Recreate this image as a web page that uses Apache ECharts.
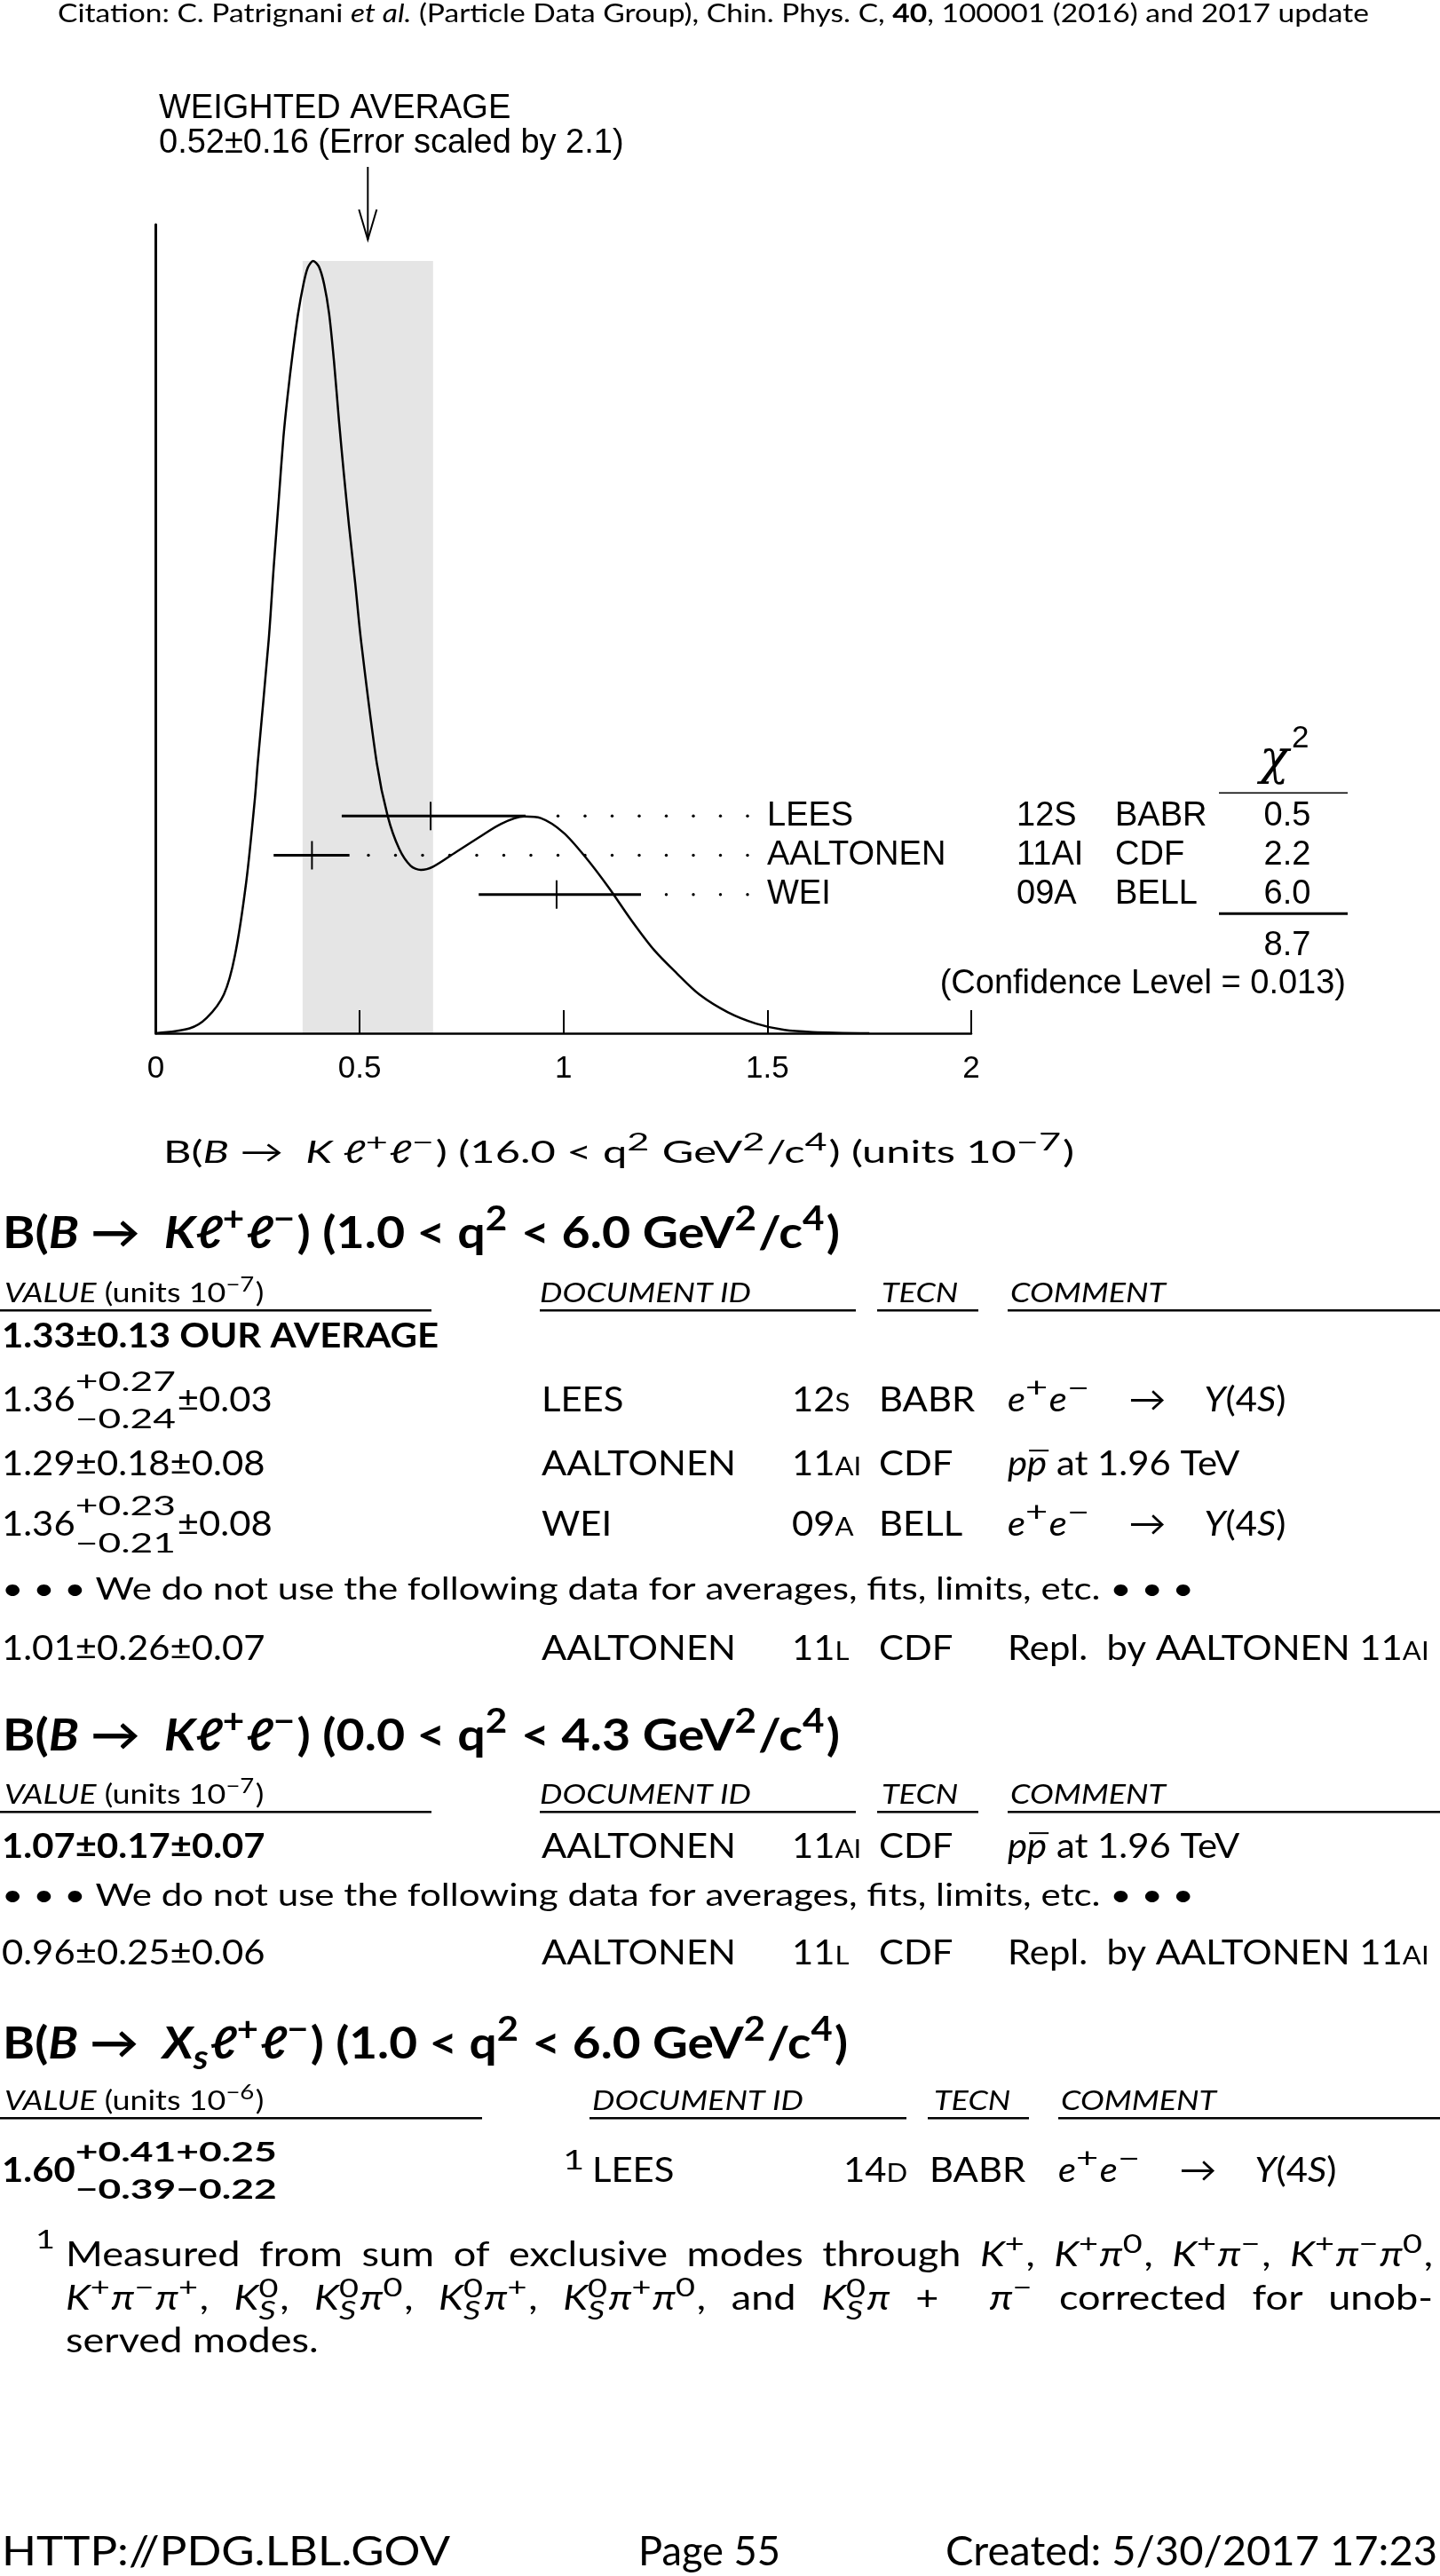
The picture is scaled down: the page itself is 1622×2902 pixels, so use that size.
<!DOCTYPE html>
<html><head><meta charset="utf-8">
<script src="https://cdn.jsdelivr.net/npm/echarts@6/dist/echarts.min.js"></script>
<style>html,body{margin:0;padding:0;background:#fff}#c{width:1622px;height:2902px}</style>
</head><body><div id="c"></div>
<script>
// ---------------- DATA ----------------
const curveX = [0, 0.083, 0.125, 0.167, 0.194, 0.222, 0.243, 0.25, 0.277, 0.289, 0.302, 0.313, 0.323, 0.336, 0.349, 0.362, 0.373, 0.386, 0.4, 0.413, 0.425, 0.437, 0.449, 0.461, 0.474, 0.489, 0.503, 0.542, 0.569, 0.597, 0.625, 0.65, 0.68, 0.736, 0.792, 0.847, 0.903, 0.944, 1.0, 1.055, 1.111, 1.166, 1.222, 1.278, 1.333, 1.403, 1.472, 1.542, 1.611, 1.75];
const curveY = [0, 0.006, 0.019, 0.048, 0.096, 0.188, 0.29, 0.334, 0.487, 0.575, 0.663, 0.737, 0.787, 0.842, 0.89, 0.926, 0.947, 0.955, 0.948, 0.926, 0.89, 0.831, 0.759, 0.693, 0.627, 0.557, 0.487, 0.334, 0.268, 0.228, 0.207, 0.202, 0.206, 0.224, 0.242, 0.259, 0.268, 0.266, 0.248, 0.217, 0.18, 0.14, 0.103, 0.074, 0.048, 0.026, 0.012, 0.004, 0.0015, 0];
const expNames = ['LEES', 'AALTONEN', 'WEI'];
const expRefs = ['12S', '11AI', '09A'];
const expTecn = ['BABR', 'CDF', 'BELL'];
const expVal = [0.674, 0.383, 0.983];
const expErrLo = [0.218, 0.094, 0.191];
const expErrHi = [0.233, 0.092, 0.207];
const expChi2 = ['0.5', '2.2', '6.0'];
const chi2Total = '8.7';
const confLevel = '0.013';
const avgValue = 0.52, avgError = 0.16, errScale = 2.1;
const xTicks = [0, 0.5, 1, 1.5, 2];

// ---------------- TEXT CONTENT ----------------
const citation = 'Citation: C. Patrignani @et al.@ (Particle Data Group), Chin. Phys. C, !40!, 100001 (2016) and 2017 update';
const axisTitle = 'B(@B@ →  @K@ @ℓ@^{+}@ℓ@^{−}) (16.0 < q^{2} GeV^{2}/c^{4}) (units 10^{−7})';
const sec1Title = 'B(@B@ →  @Kℓ@^{+}@ℓ@^{−}) (1.0 < q^{2} < 6.0 GeV^{2}/c^{4})';
const sec2Title = 'B(@B@ →  @Kℓ@^{+}@ℓ@^{−}) (0.0 < q^{2} < 4.3 GeV^{2}/c^{4})';
const sec3Title = 'B(@B@ →  @X@_{@s@}@ℓ@^{+}@ℓ@^{−}) (1.0 < q^{2} < 6.0 GeV^{2}/c^{4})';
const valHdr7 = '@VALUE@ (units 10^{−7})';
const valHdr6 = '@VALUE@ (units 10^{−6})';
const colHdrs = ['@DOCUMENT ID@', '@TECN@', '@COMMENT@'];
const EE = '@e@^{+}@e@^{−}    →    @Υ@(4@S@)';
const PP = '@p$p$@ at 1.96 TeV';
const REPL = 'Repl.  by AALTONEN 11#AI#';
const DOTS = '• • • We do not use the following data for averages, fits, limits, etc. • • •';
const sec1Avg = '1.33±0.13 OUR AVERAGE';
const sec1Values = ['1.36%{+0.27}{−0.24}±0.03', '1.29±0.18±0.08', '1.36%{+0.23}{−0.21}±0.08'];
const sec1Docs = ['LEES', 'AALTONEN', 'WEI'];
const sec1Refs = ['12#S#', '11#AI#', '09#A#'];
const sec1Tecn = ['BABR', 'CDF', 'BELL'];
const sec1Comments = [EE, PP, EE];
const sec1Unused = ['1.01±0.26±0.07', 'AALTONEN', '11#L#', 'CDF', REPL];
const sec2Main = ['1.07±0.17±0.07', 'AALTONEN', '11#AI#', 'CDF', PP];
const sec2Unused = ['0.96±0.25±0.06', 'AALTONEN', '11#L#', 'CDF', REPL];
const sec3Main = ['1.60%{+0.41+0.25}{−0.39−0.22}', 'LEES', '14#D#', 'BABR', EE];
const footLines = [
  'Measured from sum of exclusive modes through @K@^{+}, @K@^{+}@π@^{0}, @K@^{+}@π@^{−}, @K@^{+}@π@^{−}@π@^{0},',
  '@K@^{+}@π@^{−}@π@^{+}, @K@%{0}{@S@}, @K@%{0}{@S@}@π@^{0}, @K@%{0}{@S@}@π@^{+}, @K@%{0}{@S@}@π@^{+}@π@^{0}, and @K@%{0}{@S@}@π@ +  @π@^{−} corrected for unob-',
  'served modes.'
];
const footer = ['HTTP://PDG.LBL.GOV', 'Page 55', 'Created: 5/30/2017 17:23'];

// ---------------- TEXT LAYOUT HELPERS ----------------
const LATO = "Lato, 'DejaVu Sans', sans-serif";
const ARIAL = "'Liberation Sans', Arial, sans-serif";
const mctx = document.createElement('canvas').getContext('2d');
function F(size, it, b, fam) { return (it ? 'italic ' : '') + (b ? 'bold ' : '') + size + 'px ' + (fam || LATO); }
function MW(t, f) { mctx.font = f; return mctx.measureText(t).width; }
const offCache = {};
function OFF(f) {
  if (offCache[f] !== undefined) return offCache[f];
  mctx.font = f; mctx.textBaseline = 'middle';
  const a = mctx.measureText('H').actualBoundingBoxDescent;
  mctx.textBaseline = 'alphabetic';
  const b = mctx.measureText('H').actualBoundingBoxDescent;
  return offCache[f] = a - b;
}
const G = [];
function T(text, f, X, Y, sc) {
  G.push({type: 'text', x: X, y: Y, scaleX: sc, silent: true, z: 100,
    style: {text: text, font: f, fill: '#000', textFill: '#000', align: 'left', textAlign: 'left', verticalAlign: 'middle', textVerticalAlign: 'middle'}});
}
function R(x, y, w, h) { G.push({type: 'rect', silent: true, z: 100, shape: {x: x, y: y, width: w, height: h}, style: {fill: '#000'}}); }

function inner(s) {
  const segs = []; let b = '', it = false;
  for (const ch of s) { if (ch === '@') { if (b) segs.push({t: b, it: it}); b = ''; it = !it; } else b += ch; }
  if (b) segs.push({t: b, it: it});
  return segs;
}
function parse(str) {
  const out = []; let it = false, sc = false, ov = false, bd = false, buf = '';
  const flush = () => { if (buf) { out.push({t: buf, it: it, sc: sc, ov: ov, bd: bd, pos: 'base'}); buf = ''; } };
  let i = 0;
  while (i < str.length) {
    const ch = str[i];
    if (ch === '@') { flush(); it = !it; i++; continue; }
    if (ch === '#') { flush(); sc = !sc; i++; continue; }
    if (ch === '$') { flush(); ov = !ov; i++; continue; }
    if (ch === '!') { flush(); bd = !bd; i++; continue; }
    if ((ch === '^' || ch === '_') && str[i + 1] === '{') {
      flush(); const j = str.indexOf('}', i);
      out.push({pos: ch === '^' ? 'sup' : 'sub', segs: inner(str.slice(i + 2, j))}); i = j + 1; continue;
    }
    if (ch === '%' && str[i + 1] === '{') {
      flush(); const j = str.indexOf('}', i); const k = str.indexOf('}', j + 1);
      out.push({pos: 'stack', sup: inner(str.slice(i + 2, j)), sub: inner(str.slice(j + 2, k))}); i = k + 1; continue;
    }
    buf += ch; i++;
  }
  flush();
  return out;
}
function line(str, x, yb, o) {
  o = o || {};
  const size = o.size || 36, fam = o.fam || LATO, bold = !!o.b;
  const ss = o.ss || Math.round(size * 0.76);
  const kx = o.supX || 1;
  const supDy = o.supDy != null ? o.supDy : -0.4 * size, subDy = o.subDy != null ? o.subDy : 0.24 * size;
  const stSup = o.stSup != null ? o.stSup : -0.58 * size, stSub = o.stSub != null ? o.stSub : 0.48 * size;
  const toks = parse(str); const items = []; let cur = 0;
  const mk = (seg, sz, dy, at, k) => {
    const s2 = seg.sc ? Math.round(sz * 0.74) : sz;
    const f = F(s2, seg.it, bold || seg.bd, fam); const w = MW(seg.t, f) * k;
    items.push({t: seg.t, f: f, x: at, dy: dy, w: w, ov: seg.ov, sz: s2, k: k}); return w;
  };
  for (const tk of toks) {
    if (tk.pos === 'base') {
      if (o.justify) {
        for (const p of tk.t.split(/( )/)) {
          if (!p) continue;
          if (p === ' ') { cur += MW(' ', F(size, tk.it, bold, fam)); items.push({space: true}); }
          else cur += mk(Object.assign({}, tk, {t: p}), size, 0, cur, 1);
        }
      } else cur += mk(tk, size, 0, cur, 1);
    } else if (tk.pos === 'sup' || tk.pos === 'sub') {
      for (const s of tk.segs) cur += mk(s, ss, tk.pos === 'sup' ? supDy : subDy, cur, kx);
      cur += size * 0.04;
    } else {
      let a = cur, b = cur;
      for (const s of tk.sup) a += mk(s, ss, stSup, a, kx);
      for (const s of tk.sub) b += mk(s, ss, stSub, b, kx);
      cur = Math.max(a, b) + size * 0.04;
    }
  }
  const W = cur;
  if (o.measure) return W;
  const sc = o.width ? o.width / W : (o.scale || 1);
  let x0 = x; if (o.align === 'center') x0 = x - W * sc / 2; else if (o.align === 'right') x0 = x - W * sc;
  let extra = 0;
  if (o.justify) { const n = items.filter(q => q.space).length; extra = n ? (o.justify - W * sc) / n : 0; }
  let add = 0;
  for (const q of items) {
    if (q.space) { add += extra; continue; }
    const X = x0 + q.x * sc + add;
    T(q.t, q.f, X, yb + q.dy - OFF(q.f), sc * q.k);
    if (q.ov) R(X + 2, yb + q.dy - q.sz * 0.74, q.w * sc, 2);
  }
  return W;
}

// ---------------- PAGE TEXT ----------------
const BODY = 39;
const S = 219 / MW('AALTONEN', F(BODY));
const colS = 238 / MW('DOCUMENT ID', F(30, true, false));
const fnOpt = {size: 38, supDy: -15, supX: 1.1, stSup: -14, stSub: 11};
const fnS = 1440 / line(footLines[0], 0, 0, Object.assign({measure: true, justify: 1}, fnOpt));

line(citation, 65, 25, {size: 28, width: 1477});

// plot annotations
line('WEIGHTED AVERAGE', 179, 133, {size: 38, fam: ARIAL});
line(avgValue.toFixed(2) + '±' + avgError.toFixed(2) + ' (Error scaled by ' + errScale + ')', 179, 172, {size: 38, fam: ARIAL});
line('@χ@', 1419, 872, {size: 54, fam: "'DejaVu Serif', serif"});
line('2', 1455, 842, {size: 35, fam: ARIAL});
R(1373, 892.5, 145, 1.5);
R(1373, 1027.8, 145, 3);
line(chi2Total, 1450, 1076, {size: 38, fam: ARIAL, align: 'center'});
line('(Confidence Level = ' + confLevel + ')', 1516, 1119, {size: 38, fam: ARIAL, align: 'right'});
line(axisTitle, 184, 1310, {size: 35, width: 1026, supX: 1.15});

function colHeaders(y, valHdr, xs, ulines) {
  line(valHdr, xs[0], y, {size: 30, scale: colS});
  for (let i = 0; i < 3; i++) line(colHdrs[i], xs[i + 1], y, {size: 30, scale: colS});
  for (const u of ulines) R(u[0], y + 8, u[1] - u[0], 2.5);
}
function row(y, cols, c, bold) {
  line(c[0], cols[0], y, {size: BODY, scale: S, b: bold, supX: 1.38});
  line(c[1], cols[1], y, {size: BODY, scale: S});
  line(c[2], cols[2], y, {size: BODY, scale: S});
  line(c[3], cols[3], y, {size: BODY, scale: S});
  line(c[4], cols[4], y, {size: BODY, scale: S, supX: 1.35});
}
const C12 = [2, 610, 892, 990, 1135];
const U12 = [[0, 486], [608, 964], [988, 1102], [1135, 1622]];
const H12 = [5, 608, 993, 1138];

// section 1
line(sec1Title, 3, 1406, {size: 50, b: true, width: 943});
colHeaders(1467, valHdr7, H12, U12);
line(sec1Avg, 2, 1518, {size: BODY, b: true, width: 492});
[1590, 1662, 1730].forEach((y, i) => row(y, C12, [sec1Values[i], sec1Docs[i], sec1Refs[i], sec1Tecn[i], sec1Comments[i]], false));
line(DOTS, 2, 1802, {size: 35, width: 1343});
row(1870, C12, sec1Unused, false);

// section 2
line(sec2Title, 3, 1972, {size: 50, b: true, width: 943});
colHeaders(2032, valHdr7, H12, U12);
row(2093, C12, sec2Main, true);
line(DOTS, 2, 2147, {size: 35, width: 1343});
row(2213, C12, sec2Unused, false);

// section 3
line(sec3Title, 3, 2319, {size: 50, b: true, width: 952});
colHeaders(2377, valHdr6, [5, 667, 1052, 1195], [[0, 543], [664, 1021], [1045, 1159], [1192, 1622]]);
row(2458, [2, 667, 950, 1047, 1192], sec3Main, true);
line('^{1}', 634, 2458, {size: BODY, scale: S, supDy: -14, supX: 1.3});
line('^{1}', 40, 2553, Object.assign({}, fnOpt, {scale: fnS, supDy: -20}));
line(footLines[0], 74, 2553, Object.assign({}, fnOpt, {scale: fnS, justify: 1540}));
line(footLines[1], 74, 2602, Object.assign({}, fnOpt, {scale: fnS, justify: 1540}));
line(footLines[2], 74, 2650, Object.assign({}, fnOpt, {scale: fnS}));

// footer
line(footer[0], 2, 2890, {size: 46, width: 505});
line(footer[1], 719, 2890, {size: 46, width: 160});
line(footer[2], 1065, 2890, {size: 46, width: 554});

// ---------------- CHART ----------------
const curveMax = Math.max.apply(null, curveY);
const PF = "38px 'Liberation Sans', Arial, sans-serif";
const chart = echarts.init(document.getElementById('c'), null, {renderer: 'canvas'});
chart.setOption({
  animation: false,
  backgroundColor: '#fff',
  grid: [
    {left: 175.5, right: 528, top: 253, bottom: 1738, containLabel: false},
    {left: 175.5, right: 528, top: 897.2, height: 132.6, containLabel: false}
  ],
  xAxis: [
    {gridIndex: 0, type: 'value', min: xTicks[0], max: xTicks[xTicks.length - 1], interval: 0.5, z: 10,
      axisLine: {lineStyle: {color: '#000', width: 2.5}},
      axisTick: {inside: true, length: 26, lineStyle: {color: '#000', width: 2}},
      axisLabel: {color: '#000', fontSize: 35, fontFamily: "'Liberation Sans', Arial", margin: 23},
      splitLine: {show: false}},
    {gridIndex: 1, type: 'value', min: 0, max: 2, show: false}
  ],
  yAxis: [
    {gridIndex: 0, type: 'value', min: 0, max: 1, z: 10,
      axisLine: {show: true, lineStyle: {color: '#000', width: 3}},
      axisTick: {show: false}, axisLabel: {show: false}, splitLine: {show: false}},
    {gridIndex: 1, type: 'category', data: expNames, inverse: true, show: false}
  ],
  series: [
    {type: 'custom', xAxisIndex: 0, yAxisIndex: 0, z: 1, silent: true, clip: false,
      data: [[avgValue, avgError]],
      renderItem: function (p, api) {
        const m = api.value(0), e = api.value(1);
        const l = api.coord([m - e, 0]), h = api.coord([m + e, curveMax]);
        const ax = api.coord([m, 0])[0];
        return {type: 'group', children: [
          {type: 'rect', shape: {x: l[0], y: h[1], width: h[0] - l[0], height: l[1] - h[1]}, style: {fill: '#e5e5e5'}},
          {type: 'line', shape: {x1: ax, y1: 188, x2: ax, y2: 270}, style: {stroke: '#000', lineWidth: 2}},
          {type: 'polyline', shape: {points: [[ax - 10, 236], [ax, 270], [ax + 10, 236]]}, style: {stroke: '#000', lineWidth: 2, fill: null}}
        ]};
      }},
    {type: 'line', xAxisIndex: 0, yAxisIndex: 0, z: 3, silent: true, symbol: 'none', showSymbol: false, smooth: 0.3,
      lineStyle: {color: '#000', width: 2.5},
      data: curveX.map((x, i) => [x, curveY[i]])},
    {type: 'custom', xAxisIndex: 1, yAxisIndex: 1, z: 4, silent: true, clip: false,
      encode: {x: 0, y: 3},
      data: expNames.map((n, i) => [expVal[i], expErrLo[i], expErrHi[i], i]),
      renderItem: function (p, api) {
        const v = api.value(0), lo = api.value(1), hi = api.value(2), r = p.dataIndex;
        const c = api.coord([v, r]), a = api.coord([v - lo, r]), b = api.coord([v + hi, r]);
        const y = c[1];
        const ch = [
          {type: 'rect', shape: {x: a[0], y: y - 1.5, width: b[0] - a[0], height: 3}, style: {fill: '#000'}},
          {type: 'rect', shape: {x: c[0] - 1, y: y - 16, width: 2, height: 32}, style: {fill: '#000'}}
        ];
        for (let dx = 842; dx > b[0] + 20; dx -= 30.5) ch.push({type: 'circle', shape: {cx: dx, cy: y, r: 1.7}, style: {fill: '#000'}});
        const tx = (t, x, al) => ({type: 'text', x: x, y: y, style: {text: t, font: PF, fill: '#000', textFill: '#000', align: al, textAlign: al, verticalAlign: 'middle', textVerticalAlign: 'middle'}});
        ch.push(tx(expNames[r], 864, 'left'), tx(expRefs[r], 1145, 'left'), tx(expTecn[r], 1256, 'left'), tx(expChi2[r], 1450, 'center'));
        return {type: 'group', children: ch};
      }}
  ],
  graphic: {elements: G}
});
</script>
</body></html>
